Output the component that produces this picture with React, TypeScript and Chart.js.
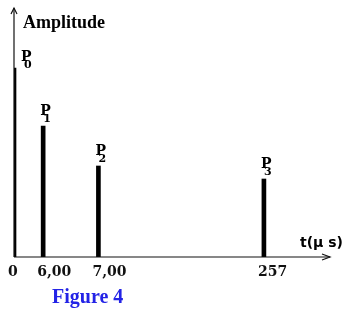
import React, { useEffect, useRef } from "react";
import { Chart, registerables } from "chart.js";

Chart.register(...registerables);

// Schematic (not-to-scale) positions of the pulses along the time axis
const tickPositions = [0, 1.05, 3.04, 9];
const tickLabels = ["0", "6,00", "7,00", "257"];
const pulseNames = ["0", "1", "2", "3"];
const amplitudes = [189, 131, 91, 78];

const X_MAX = 11.38;
const Y_MAX = 249;

const axesPlugin = {
  id: "axesArrows",
  afterDraw(chart: any) {
    const { ctx, chartArea } = chart;
    const xs = chart.scales.x;
    const ys = chart.scales.y;
    const x0 = xs.getPixelForValue(0);
    const y0 = ys.getPixelForValue(0);
    ctx.save();
    ctx.strokeStyle = "#111";
    ctx.lineWidth = 1.2;
    // y axis
    ctx.beginPath();
    ctx.moveTo(x0, y0);
    ctx.lineTo(x0, chartArea.top);
    ctx.stroke();
    ctx.beginPath();
    ctx.moveTo(x0 - 3, chartArea.top + 6);
    ctx.lineTo(x0, chartArea.top);
    ctx.lineTo(x0 + 3, chartArea.top + 6);
    ctx.stroke();
    // x axis
    ctx.beginPath();
    ctx.moveTo(x0, y0);
    ctx.lineTo(chartArea.right, y0);
    ctx.stroke();
    ctx.beginPath();
    ctx.moveTo(chartArea.right - 8, y0 - 3);
    ctx.lineTo(chartArea.right, y0);
    ctx.lineTo(chartArea.right - 8, y0 + 3);
    ctx.stroke();

    // axis titles
    ctx.fillStyle = "#000";
    ctx.textBaseline = "alphabetic";
    ctx.textAlign = "left";
    ctx.font = "bold 18px 'Liberation Serif'";
    ctx.fillText("Amplitude", x0 + 9, 28);
    ctx.font = "bold 14px 'DejaVu Sans'";
    ctx.fillText("t(µ s)", 300, y0 - 10);

    // pulse labels
    const meta = chart.getDatasetMeta(0);
    meta.data.forEach((bar: any, i: number) => {
      const bx = bar.x;
      const by = bar.y;
      let lx = bx - 3;
      let ly = by - 11;
      if (i === 0) {
        lx = bx + 7;
        ly = by - 7;
      }
      ctx.font = "bold 14px 'DejaVu Serif'";
      ctx.fillText("P", lx, ly);
      ctx.font = "bold 11px 'DejaVu Serif'";
      ctx.fillText(pulseNames[i], lx + 3, ly + 7);
    });

    // caption
    ctx.fillStyle = "#2323e6";
    ctx.font = "bold 20px 'Liberation Serif'";
    ctx.fillText("Figure 4", 52, 303);
    ctx.restore();
  },
};

export default function App() {
  const ref = useRef<HTMLCanvasElement | null>(null);
  useEffect(() => {
    document.body.style.margin = "0";
    const chart = new Chart(ref.current as HTMLCanvasElement, {
      type: "bar",
      data: {
        datasets: [
          {
            data: tickPositions.map((x, i) => ({ x, y: amplitudes[i] })),
            backgroundColor: "#000",
            barThickness: 4,
          },
        ],
      },
      options: {
        animation: false,
        responsive: false,
        maintainAspectRatio: false,
        layout: { padding: { left: 14, right: 20, top: 8, bottom: 0 } },
        plugins: { legend: { display: false }, tooltip: { enabled: false } },
        scales: {
          x: {
            type: "linear",
            min: 0,
            max: X_MAX,
            offset: false,
            grid: { display: false, drawTicks: false },
            border: { display: false },
            afterBuildTicks: (scale: any) => {
              scale.ticks = tickPositions.map((v) => ({ value: v }));
            },
            afterFit: (scale: any) => {
              scale.height = 57;
            },
            ticks: {
              autoSkip: false,
              maxRotation: 0,
              minRotation: 0,
              align: "start",
              labelOffset: -6,
              padding: 7,
              color: "#111",
              font: { family: "'DejaVu Serif'", size: 14, weight: "bold" },
              callback: (value: any) => {
                const idx = tickPositions.indexOf(Number(value));
                return idx >= 0 ? tickLabels[idx] : "";
              },
            },
          },
          y: {
            display: false,
            min: 0,
            max: Y_MAX,
          },
        },
      },
      plugins: [axesPlugin],
    });
    return () => chart.destroy();
  }, []);
  return (
    <div style={{ position: "fixed", left: 0, top: 0, width: 350, height: 314, background: "#fff" }}>
      <canvas ref={ref} width={350} height={314} />
    </div>
  );
}
